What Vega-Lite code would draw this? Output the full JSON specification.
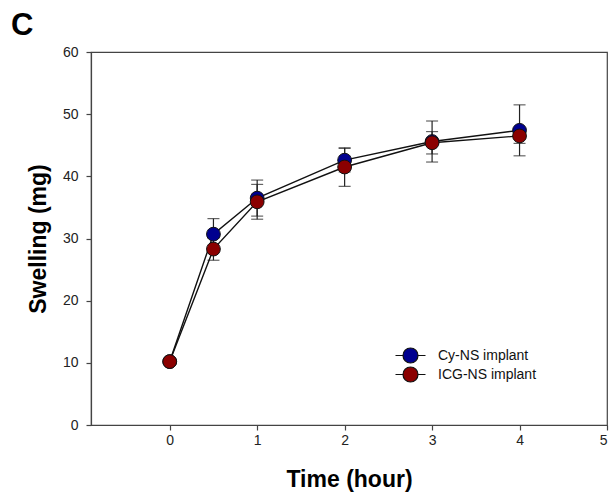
{
  "$schema": "https://vega.github.io/schema/vega-lite/v6.json",
  "width": 516,
  "height": 373,
  "autosize": "none",
  "padding": {"left": 91, "top": 52, "right": 2, "bottom": 68},
  "background": "white",
  "config": {
    "font": "Liberation Sans",
    "view": {"stroke": "#444", "strokeWidth": 1.2}
  },
  "title": {
    "text": "C",
    "anchor": "start",
    "frame": "group",
    "dx": -80,
    "offset": 0,
    "dy": 28,
    "baseline": "bottom",
    "fontSize": 31,
    "fontWeight": "bold",
    "font": "Liberation Sans",
    "color": "black"
  },
  "data": {
    "values": [
      {"series": "Cy-NS implant", "time": 0, "swelling": 10.2, "sd": 0.3},
      {"series": "Cy-NS implant", "time": 0.5, "swelling": 30.7, "sd": 2.5},
      {"series": "Cy-NS implant", "time": 1, "swelling": 36.5, "sd": 2.9},
      {"series": "Cy-NS implant", "time": 2, "swelling": 42.6, "sd": 1.9},
      {"series": "Cy-NS implant", "time": 3, "swelling": 45.6, "sd": 3.3},
      {"series": "Cy-NS implant", "time": 4, "swelling": 47.4, "sd": 4.1},
      {"series": "ICG-NS implant", "time": 0, "swelling": 10.2, "sd": 0.3},
      {"series": "ICG-NS implant", "time": 0.5, "swelling": 28.3, "sd": 1.8},
      {"series": "ICG-NS implant", "time": 1, "swelling": 35.9, "sd": 2.8},
      {"series": "ICG-NS implant", "time": 2, "swelling": 41.5, "sd": 3.1},
      {"series": "ICG-NS implant", "time": 3, "swelling": 45.4, "sd": 1.8},
      {"series": "ICG-NS implant", "time": 4, "swelling": 46.5, "sd": 1.2}
    ]
  },
  "encoding": {
    "x": {
      "field": "time", "type": "quantitative",
      "scale": {"domain": [-0.9, 5], "nice": false, "zero": false},
      "axis": {
        "values": [0, 1, 2, 3, 4, 5], "format": "d", "title": "Time (hour)",
        "grid": false, "domainColor": "#444", "domainWidth": 1.2, "tickColor": "#444", "tickSize": 5, "tickWidth": 1.2,
        "labelFont": "Liberation Sans", "labelFontSize": 14, "labelColor": "#222", "labelPadding": 3,
        "titleFont": "Liberation Sans", "titleFontSize": 23, "titleFontWeight": "bold", "titleColor": "black", "titlePadding": 21
      }
    },
    "y": {
      "field": "swelling", "type": "quantitative",
      "scale": {"domain": [0, 60], "nice": false},
      "axis": {
        "values": [0, 10, 20, 30, 40, 50, 60], "format": "d", "title": "Swelling (mg)",
        "grid": false, "domainColor": "#444", "domainWidth": 1.2, "tickColor": "#444", "tickSize": 5, "tickWidth": 1.2,
        "labelFont": "Liberation Sans", "labelFontSize": 14, "labelColor": "#222", "labelPadding": 8,
        "titleFont": "Liberation Sans", "titleFontSize": 23, "titleFontWeight": "bold", "titleColor": "black", "titlePadding": 12
      }
    }
  },
  "layer": [
    {
      "mark": {"type": "errorbar", "ticks": {"size": 12}, "color": "#222", "thickness": 1.2},
      "encoding": {
        "yError": {"field": "sd"},
        "detail": {"field": "series"}
      }
    },
    {
      "mark": {"type": "line", "color": "#111", "strokeWidth": 1.4},
      "encoding": {
        "detail": {"field": "series"}
      }
    },
    {
      "mark": {"type": "point", "shape": "circle", "filled": true, "size": 190, "stroke": "#111", "strokeWidth": 1, "opacity": 1},
      "encoding": {
        "fill": {
          "field": "series", "type": "nominal",
          "scale": {"domain": ["Cy-NS implant", "ICG-NS implant"], "range": ["#00008f", "#8b0000"]},
          "legend": {
            "title": null,
            "orient": "none",
            "legendX": 311,
            "legendY": 295,
            "symbolType": "M-2,0H-1M1,0H2M1,0A1,1,0,1,1,-1,0A1,1,0,1,1,1,0",
            "symbolSize": 225,
            "symbolStrokeColor": "#111",
            "symbolStrokeWidth": 1.2,
            "symbolOpacity": 1,
            "labelFont": "Liberation Sans",
            "labelFontSize": 14,
            "labelColor": "#111",
            "labelOffset": 19,
            "rowPadding": -8
          }
        }
      }
    }
  ]
}
